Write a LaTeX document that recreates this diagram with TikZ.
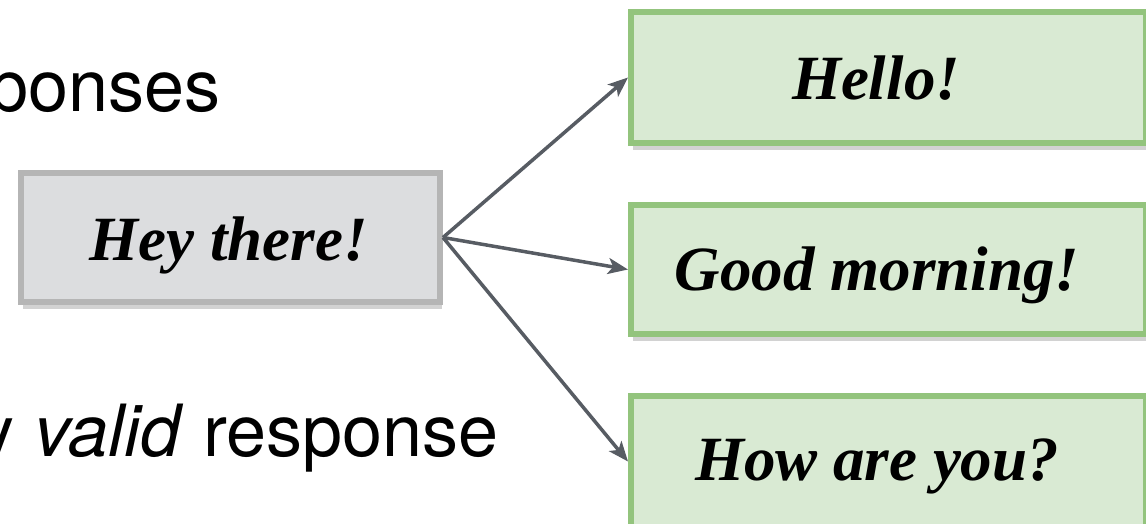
\documentclass[tikz,border=0pt]{standalone}
\usepackage{fontspec}
\setmainfont{Liberation Serif}
\newfontfamily\plainsans{TeX Gyre Heros}
\usetikzlibrary{arrows.meta,shadows}

\definecolor{greyfill}{HTML}{DCDDDF}
\definecolor{greyline}{HTML}{B5B5B5}
\definecolor{greenfill}{HTML}{D9EAD3}
\definecolor{greenline}{HTML}{93C47D}
\definecolor{arrowgrey}{HTML}{575C63}

\tikzset{
  boxshadow/.style={drop shadow={shadow xshift=2pt,shadow yshift=-7pt,opacity=0.25,fill=black!70}},
  promptbox/.style={draw=greyline,fill=greyfill,line width=6pt,minimum width=419pt,minimum height=129pt,inner sep=0pt,boxshadow},
  replybox/.style={draw=greenline,fill=greenfill,line width=6pt,minimum width=515pt,inner sep=0pt,boxshadow},
  boxtext/.style={anchor=base,inner sep=0pt,font=\fontsize{63}{70}\selectfont\bfseries\itshape},
  bigtext/.style={inner sep=0pt,font=\plainsans\fontsize{72}{80}\selectfont},
  link/.style={draw=arrowgrey,line width=3.5pt,-{Stealth[length=20pt,width=16pt,inset=5pt]}}
}

\begin{document}
\begin{tikzpicture}[x=1pt,y=-1pt]
  \useasboundingbox (0,0) rectangle (1146,524);
  \clip (0,0) rectangle (1146,524);

  % slide text on the left
  \node[bigtext,anchor=base west] (linea) at (-12,112) {ponses};
  \node[bigtext,anchor=base east] (lineb) at (499,456) {y \textit{valid} response};

  % prompt and its replies
  \node[promptbox] (hey) at (230.5,237.5) {};
  \node[boxtext] (heytext) at (228.5,260) {Hey there!};

  \node[replybox,minimum height=131pt] (hello) at (888.5,77.5) {};
  \node[boxtext] (hellotext) at (876,100) {Hello!};

  \node[replybox,minimum height=129pt] (morning) at (888.5,269.5) {};
  \node[boxtext] (morningtext) at (877,290) {Good morning!};

  \node[replybox,minimum height=131pt] (howare) at (888.5,461.5) {};
  \node[boxtext] (howaretext) at (877,480) {How are you?};

  % connectors
  \draw[link] (hey.east) -- (hello.west);
  \draw[link] (hey.east) -- (morning.west);
  \draw[link] (hey.east) -- (howare.west);
\end{tikzpicture}
\end{document}
